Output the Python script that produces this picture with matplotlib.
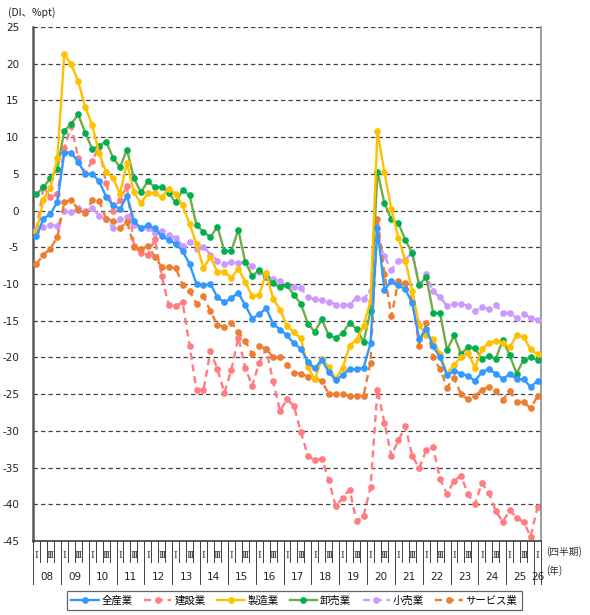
import matplotlib
matplotlib.use("Agg")
import matplotlib.pyplot as plt
from matplotlib.transforms import blended_transform_factory

plt.rcParams['font.family'] = ['DejaVu Sans', 'Noto Sans CJK JP']

years = ['08', '09', '10', '11', '12', '13', '14', '15', '16', '17', '18',
         '19', '20', '21', '22', '23', '24', '25', '26']
quarter_marks = ['Ⅰ', '', 'Ⅲ', '']

all_ind = [-3.5, -1.1, -0.5, 1.2, 7.9, 7.9, 6.6, 5.0, 5.0, 4.0, 1.9, 0.7, 0.2, 2.0,
           -1.4, -2.4, -2.0, -2.4, -3.5, -4.0, -4.5, -5.5, -7.3, -10.0, -10.2, -10.0,
           -11.8, -12.5, -11.9, -11.2, -12.9, -14.7, -14.1, -13.3, -15.4, -16.2, -17.0,
           -18.1, -18.8, -20.6, -21.5, -20.3, -22.0, -23.1, -22.4, -21.6, -21.6, -21.4,
           -18.1, -2.4, -10.8, -9.6, -10.2, -10.7, -12.6, -17.5, -16.1, -18.5, -20.0,
           -22.4, -21.8, -22.2, -22.5, -23.2, -22.0, -21.6, -22.2, -22.9, -22.3, -22.9,
           -23.0, -24.0, -23.2]
construction = [-2.6, 3.2, 1.8, 2.3, 8.5, 11.5, 7.2, 5.1, 6.8, 8.6, 3.8, 0.0, 1.5, 3.3,
                -4.8, -5.8, -6.0, -3.9, -8.9, -12.9, -13.0, -12.5, -18.4, -24.5, -24.5,
                -19.1, -21.6, -24.8, -21.7, -17.3, -21.4, -23.9, -20.7, -18.9, -23.2,
                -27.3, -25.7, -26.6, -30.2, -33.4, -34.0, -33.8, -36.7, -40.3, -39.1,
                -38.0, -42.3, -41.6, -37.7, -24.4, -28.9, -33.4, -31.3, -29.4, -33.4,
                -35.1, -32.6, -32.2, -36.6, -38.6, -36.8, -36.1, -38.6, -40.0, -37.1,
                -38.4, -40.9, -42.4, -40.8, -41.8, -42.4, -44.4, -40.4]
manufacturing = [-2.9, 1.5, 3.1, 7.2, 21.3, 19.9, 17.6, 14.1, 11.7, 7.8, 5.3, 4.4, 2.3,
                 6.5, 2.5, 1.0, 2.4, 2.4, 1.8, 3.0, 2.3, 0.7, -1.8, -4.6, -7.8, -6.3,
                 -8.4, -8.3, -9.2, -7.9, -9.7, -11.7, -11.5, -8.5, -12.0, -13.5, -15.7,
                 -16.6, -17.4, -21.3, -23.0, -20.2, -21.3, -22.9, -21.4, -18.4, -17.6,
                 -15.7, -12.3, 10.8, 5.2, 0.2, -3.7, -6.8, -11.0, -15.6, -17.0, -17.5,
                 -19.6, -22.2, -21.0, -20.0, -19.4, -21.4, -18.9, -18.0, -17.8, -18.0,
                 -18.6, -17.0, -17.2, -18.9, -19.6]
wholesale = [2.2, 3.2, 4.4, 5.7, 10.9, 11.8, 13.1, 10.6, 8.4, 8.8, 9.4, 7.2, 5.9, 8.3,
             4.4, 2.5, 4.0, 3.2, 3.2, 2.4, 1.1, 2.8, 2.1, -2.0, -2.9, -3.6, -2.2, -5.5,
             -5.5, -2.6, -7.0, -8.9, -8.1, -9.1, -9.9, -10.4, -10.2, -11.5, -12.7,
             -15.4, -16.5, -14.8, -17.0, -17.3, -16.7, -15.3, -16.1, -17.9, -13.7, 5.3,
             1.0, -1.2, -1.7, -4.0, -5.8, -10.2, -9.0, -13.9, -14.0, -19.0, -17.0, -19.5,
             -18.6, -18.7, -20.2, -19.8, -20.2, -17.6, -19.7, -22.2, -20.3, -20.0, -20.3]
retail = [-2.6, -2.3, -1.9, -2.1, 0.0, -0.2, 0.3, -0.1, 0.4, -0.7, -1.2, -2.4, -1.2,
          -0.9, -2.0, -2.4, -2.4, -3.0, -2.8, -3.3, -3.7, -4.8, -4.3, -5.2, -4.9, -6.0,
          -6.8, -7.3, -7.0, -7.1, -7.0, -7.5, -8.4, -8.9, -9.3, -9.6, -10.2, -10.4,
          -10.6, -11.8, -12.1, -12.2, -12.4, -12.8, -12.8, -12.8, -11.9, -12.0, -11.0,
          -4.0, -6.2, -8.1, -6.8, -6.7, -5.7, -10.0, -8.7, -11.0, -11.8, -13.0, -12.7,
          -12.7, -13.0, -13.7, -13.2, -13.4, -12.9, -13.9, -13.9, -14.6, -14.1, -14.6,
          -14.9]
services = [-7.3, -6.0, -5.2, -3.6, 1.1, 1.5, 0.1, -0.3, 1.4, 1.3, -1.1, -1.4, -2.4,
            -1.5, -4.9, -5.3, -4.8, -6.3, -7.7, -7.7, -7.8, -10.1, -11.0, -12.7, -11.7,
            -13.7, -15.6, -15.8, -15.3, -16.5, -17.8, -19.5, -18.5, -18.8, -20.0, -20.0,
            -21.0, -22.1, -22.2, -22.6, -22.9, -23.2, -25.0, -25.0, -25.0, -25.3, -25.2,
            -25.2, -20.7, -1.1, -8.6, -14.4, -9.6, -9.9, -12.3, -18.4, -15.3, -20.0,
            -21.6, -24.1, -22.8, -25.0, -25.7, -25.3, -24.4, -24.0, -24.6, -25.8, -24.6,
            -26.1, -26.1, -26.9, -25.3]

series = [
    ('全産業', all_ind, '#3399FF', '#3399FF', '-', 7),
    ('建設業', construction, '#FF7C80', '#FF7C80', (0, (3, 2)), 2),
    ('製造業', manufacturing, '#FFC000', '#FFC000', '-', 6),
    ('卸売業', wholesale, '#70AD47', '#00B050', '-', 5),
    ('小売業', retail, '#CC99FF', '#CC99FF', (0, (3, 2)), 3),
    ('サービス業', services, '#ED7D31', '#ED7D31', (0, (3, 2)), 4),
]

W, H = 590, 615
fig = plt.figure(figsize=(W / 100, H / 100), dpi=100)
L, R, T, B = 33, 541, 27, 541
ax = fig.add_axes([L / W, 1 - B / H, (R - L) / W, (B - T) / H])

n = len(all_ind)
xs = list(range(n))
handles = []
for name, vals, lc, mc, ls, z in series:
    h, = ax.plot(xs, vals, color=lc, linestyle=ls, linewidth=1.7, marker='o',
                 markersize=3.8, markerfacecolor=mc, markeredgecolor=mc, zorder=z,
                 label=name)
    handles.append(h)

ax.set_xlim(-0.5, n - 0.5)
ax.set_ylim(-45, 25)
ax.set_yticks(range(-45, 30, 5))
ax.set_yticklabels([str(v) for v in range(-45, 30, 5)], fontsize=7.5, color='#222222')
ax.tick_params(axis='y', length=0, pad=10)
ax.set_xticks([])
for v in range(-40, 30, 5):
    ax.axhline(v, color='#404040', linewidth=0.9, linestyle=(0, (3.5, 2.5)), zorder=1)

ax.spines['top'].set_visible(False)
ax.spines['left'].set_color('#595959')
ax.spines['left'].set_linewidth(1.8)
ax.spines['bottom'].set_color('#404040')
ax.spines['bottom'].set_linewidth(1.2)
ax.spines['right'].set_color('#8c8c8c')
ax.spines['right'].set_linewidth(1.2)

tr = blended_transform_factory(ax.transData, fig.transFigure)
def fy(py):
    return 1 - py / H

for k in range(n + 1):
    xb = k - 0.5
    bottom = 584 if (k % 4 == 0 or k == n) else 562
    ax.plot([xb, xb], [fy(B), fy(bottom)], transform=tr, color='#404040',
            linewidth=0.7, clip_on=False)
for i in range(n):
    lab = quarter_marks[i % 4]
    if lab:
        ax.text(i, fy(555), lab, transform=tr, ha='center', va='center',
                fontsize=6.5, color='#333333', family=['DejaVu Serif', 'DejaVu Sans'])
for yi, y in enumerate(years):
    start = yi * 4
    end = min(start + 3, n - 1)
    ax.text((start + end) / 2, fy(577), y, transform=tr, ha='center', va='center',
            fontsize=7.5, color='#222222')

fig.text(546 / W, fy(552), '(四半期)', ha='left', va='center', fontsize=7,
         color='#333333', family=['Noto Sans CJK JP'])
fig.text(546 / W, fy(571), '(年)', ha='left', va='center', fontsize=7,
         color='#333333', family=['Noto Sans CJK JP'])
fig.text(8 / W, fy(13), '(DI、%pt)', ha='left', va='center', fontsize=7.5,
         color='#222222', family=['Noto Sans CJK JP', 'DejaVu Sans'])

leg = fig.legend(handles=handles, loc='center', bbox_to_anchor=(294.5 / W, fy(600.5)),
                 ncol=6, frameon=True, fancybox=False, edgecolor='#404040',
                 handlelength=2.6, handletextpad=0.3,
                 columnspacing=1.1, borderpad=0.45,
                 prop={'family': ['Noto Sans CJK JP'], 'size': 7.5})
leg.get_frame().set_linewidth(0.9)

fig.savefig('out.png', dpi=100)
